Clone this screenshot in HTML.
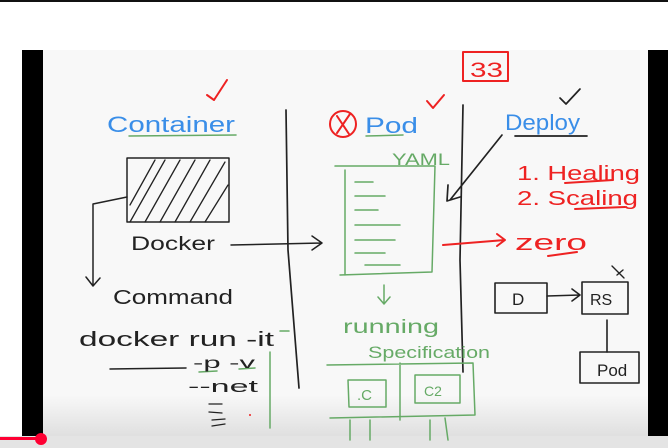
<!DOCTYPE html>
<html><head><meta charset="utf-8"><style>
html,body{margin:0;padding:0;width:668px;height:448px;overflow:hidden;background:#fff}
svg{display:block}
text{font-family:"Liberation Sans",sans-serif}
</style></head><body>
<svg width="668" height="448" viewBox="0 0 668 448">
<defs><linearGradient id="g" x1="0" y1="0" x2="0" y2="1"><stop offset="0" stop-color="#f8f8f8"/><stop offset="0.88" stop-color="#f8f8f8"/><stop offset="1" stop-color="#dcdcdc"/></linearGradient></defs>
<rect x="0" y="0" width="668" height="448" fill="#fff"/>
<rect x="0" y="0" width="668" height="2" fill="#111"/>
<rect x="43" y="50" width="605" height="392" fill="url(#g)"/>
<rect x="22" y="50" width="21" height="392" fill="#000"/>
<rect x="648" y="50" width="20" height="392" fill="#000"/>
<rect x="0" y="436" width="668" height="12" fill="#e4e4e4"/>
<rect x="0" y="437" width="40" height="3" fill="#f03"/>
<circle cx="41" cy="439" r="6" fill="#f03"/>

<g fill="none" stroke-linecap="round" stroke-linejoin="round">
<!-- column 1 -->
<path d="M207 95 L214 100 L227 80" stroke="#e22" stroke-width="2"/>
<path d="M129 136 L236 135" stroke="#6a6" stroke-width="1.5"/>
<rect x="127" y="158" width="102" height="64" stroke="#222" stroke-width="1.5"/>
<path d="M130 205 L155 160 M130 222 L165 160 M145 222 L180 160 M160 222 L195 160 M175 222 L210 160 M190 222 L225 162 M205 222 L228 185" stroke="#222" stroke-width="1.3"/>
<path d="M127 197 L93 204 L93 285 M86 277 L93 286 L100 278" stroke="#222" stroke-width="1.5"/>
<path d="M231 245 L322 243 M312 236 L322 243 L312 250" stroke="#222" stroke-width="1.5"/>
<path d="M286 110 L288 250 L299 388" stroke="#222" stroke-width="1.7"/>
<path d="M110 369 L186 368" stroke="#222" stroke-width="1.5"/>
<path d="M199 372 L217 371 M239 369 L255 368 M280 331 L289 331" stroke="#6a6" stroke-width="1.5"/>
<path d="M209 404 L222 404 M209 412 L222 413 M212 420 L225 419 M212 426 L225 424" stroke="#222" stroke-width="1.3"/>
<path d="M270 352 L270 428" stroke="#6a6" stroke-width="1.5"/>
<!-- column 2 -->
<circle cx="343" cy="124" r="13" stroke="#e22" stroke-width="2"/>
<path d="M337 116 L349 134 M350 114 L337 133" stroke="#e22" stroke-width="2"/>
<path d="M366 136 L403 135" stroke="#6a6" stroke-width="1.5"/>
<path d="M427 101 L433 108 L444 95" stroke="#e22" stroke-width="2"/>
<rect x="463" y="52" width="45" height="29" stroke="#e22" stroke-width="2"/>
<path d="M463 105 L460 260 L463 372" stroke="#222" stroke-width="1.7"/>
<path d="M335 166 L435 166 L432 272 L340 275 M345 170 L345 275" stroke="#6a6" stroke-width="1.5"/>
<path d="M355 182 L373 182 M355 196 L385 196 M355 210 L378 210 M355 225 L400 225 M355 240 L395 240 M355 253 L385 253 M365 265 L400 265" stroke="#6a6" stroke-width="1.5"/>
<path d="M384 285 L384 303 M378 297 L384 304 L390 297" stroke="#6a6" stroke-width="1.5"/>
<path d="M327 365 L473 363 L475 415 L330 418 M400 363 L400 420 M348 380 L386 380 L386 407 L349 407 Z M415 375 L460 375 L460 403 L415 403 Z M350 420 L350 440 M370 420 L370 440 M430 420 L430 440 M445 418 L448 440" stroke="#6a6" stroke-width="1.5"/>
<path d="M443 245 L505 240 M497 234 L505 240 L497 246" stroke="#e22" stroke-width="2"/>
<path d="M548 256 L577 252" stroke="#e22" stroke-width="2"/>
<!-- column 3 -->
<path d="M515 136 L587 136" stroke="#222" stroke-width="1.7"/>
<path d="M560 98 L566 104 L580 89" stroke="#222" stroke-width="1.7"/>
<path d="M502 135 L450 200 M448 185 L447 201 L460 197" stroke="#222" stroke-width="1.7"/>
<path d="M565 183 L613 180 M575 209 L625 207" stroke="#e22" stroke-width="2"/>
<rect x="495" y="283" width="52" height="30" stroke="#222" stroke-width="1.6"/>
<path d="M547 296 L580 295 M572 289 L580 295 L572 301" stroke="#222" stroke-width="1.6"/>
<rect x="582" y="282" width="46" height="32" stroke="#222" stroke-width="1.6"/>
<path d="M617 275 L623 270 M612 266 L624 278" stroke="#222" stroke-width="1.4"/>
<path d="M607 320 L607 352" stroke="#222" stroke-width="1.6"/>
<rect x="580" y="352" width="59" height="31" stroke="#222" stroke-width="1.6"/>
</g>

<g font-size="20">
<text x="107" y="132" fill="#3a8ee8" font-size="22" textLength="128" lengthAdjust="spacingAndGlyphs">Container</text>
<text x="131" y="250" fill="#222" font-size="19" textLength="84" lengthAdjust="spacingAndGlyphs">Docker</text>
<text x="113" y="304" fill="#222" font-size="20" textLength="120" lengthAdjust="spacingAndGlyphs">Command</text>
<text x="79" y="346" fill="#222" font-size="20" textLength="195" lengthAdjust="spacingAndGlyphs">docker run -it</text>
<text x="193" y="368" fill="#222" font-size="16" textLength="62" lengthAdjust="spacingAndGlyphs">-p  -v</text>
<text x="188" y="392" fill="#222" font-size="17" textLength="70" lengthAdjust="spacingAndGlyphs">--net</text>
<text x="365" y="133" fill="#3a8ee8" font-size="22" textLength="53" lengthAdjust="spacingAndGlyphs">Pod</text>
<text x="470" y="77" fill="#e22" font-size="21" textLength="33" lengthAdjust="spacingAndGlyphs">33</text>
<text x="392" y="165" fill="#6a6" font-size="17" textLength="58" lengthAdjust="spacingAndGlyphs">YAML</text>
<text x="343" y="333" fill="#6a6" font-size="19" textLength="96" lengthAdjust="spacingAndGlyphs">running</text>
<text x="368" y="358" fill="#6a6" font-size="17" textLength="122" lengthAdjust="spacingAndGlyphs">Specification</text>
<text x="357" y="400" fill="#6a6" font-size="15">.C</text>
<text x="424" y="396" fill="#6a6" font-size="14">C2</text>
<text x="515" y="250" fill="#e22" font-size="22" textLength="72" lengthAdjust="spacingAndGlyphs">zero</text>
<text x="505" y="130" fill="#3a8ee8" font-size="22" textLength="75" lengthAdjust="spacingAndGlyphs">Deploy</text>
<text x="517" y="180" fill="#e22" font-size="20" textLength="123" lengthAdjust="spacingAndGlyphs">1. Healing</text>
<text x="517" y="205" fill="#e22" font-size="20" textLength="121" lengthAdjust="spacingAndGlyphs">2. Scaling</text>
<text x="512" y="305" fill="#222" font-size="17">D</text>
<text x="590" y="305" fill="#222" font-size="16">RS</text>
<text x="597" y="376" fill="#222" font-size="17">Pod</text>
</g>
<circle cx="250" cy="415" r="1" fill="#e22"/>
</svg>
</body></html>
